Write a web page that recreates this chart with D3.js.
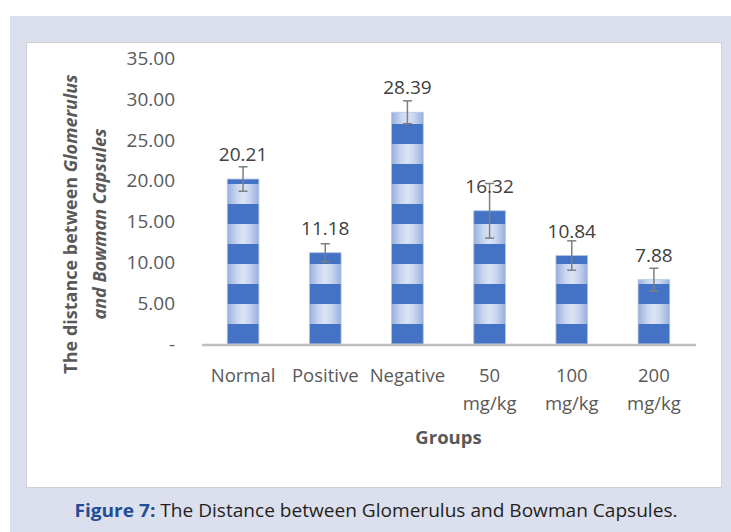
<!DOCTYPE html>
<html>
<head>
<meta charset="utf-8">
<script src="https://cdn.jsdelivr.net/npm/d3@7"></script>
<style>
  body { margin: 0; background: #fff; }
  svg { display: block; }
</style>
</head>
<body>
<div id="chart"></div>
<script>
var width = 731;
var height = 532;

// data
var groups = [["Normal"], ["Positive"], ["Negative"], ["50", "mg/kg"], ["100", "mg/kg"], ["200", "mg/kg"]];
var means = [20.21, 11.18, 28.39, 16.32, 10.84, 7.88];
var errors = [1.5, 1.1, 1.4, 3.35, 1.8, 1.4];
var yTicks = [0, 5, 10, 15, 20, 25, 30, 35];

var darkBlue = '#4472c4';
var textGray = '#595959';
var fontFamily = "'Open Sans', sans-serif";

var svg = d3.select("#chart").append("svg")
      .attr("width", width)
      .attr("height", height);

var defs = svg.append("defs");

// horizontal gradient for the light bands (cylinder look)
var grad = defs.append("linearGradient")
      .attr("id", "lightGrad")
      .attr("x1", "0%").attr("x2", "100%")
      .attr("y1", "0%").attr("y2", "0%");
grad.append("stop").attr("offset", "0%").attr("stop-color", "#98b0de");
grad.append("stop").attr("offset", "30%").attr("stop-color", "#c9d6ee");
grad.append("stop").attr("offset", "50%").attr("stop-color", "#dbe4f4");
grad.append("stop").attr("offset", "70%").attr("stop-color", "#c9d6ee");
grad.append("stop").attr("offset", "100%").attr("stop-color", "#98b0de");

// background panels
svg.append("rect")
      .attr("x", 10).attr("y", 16)
      .attr("width", width - 10).attr("height", height - 16)
      .attr("fill", "#dcdfee");
svg.append("rect")
      .attr("x", 26.5).attr("y", 42.5)
      .attr("width", 695).attr("height", 445)
      .attr("fill", "#fff")
      .attr("stroke", "#d0d0d8");

// scales
var xScale = d3.scaleBand()
      .domain(d3.range(groups.length))
      .range([202, 695])
      .paddingInner(0.615)
      .paddingOuter(0.3075);

var yScale = d3.scaleLinear()
      .domain([0, 35])
      .range([344, 58.3]);

var baseline = yScale(0);

// striped overlay anchored on the baseline
var pattern = defs.append("pattern")
      .attr("id", "stripes")
      .attr("patternUnits", "userSpaceOnUse")
      .attr("x", 0).attr("y", baseline)
      .attr("width", width).attr("height", 40);
pattern.append("rect")
      .attr("x", 0).attr("y", 20)
      .attr("width", width).attr("height", 20)
      .attr("fill", darkBlue);

// y axis
var yAxis = d3.axisLeft(yScale)
      .tickValues(yTicks)
      .tickSize(0)
      .tickPadding(0)
      .tickFormat(d => d === 0 ? "-  " : d3.format(".2f")(d));

var yAxisGroup = svg.append("g")
      .attr("transform", "translate(175, 0)")
      .call(yAxis);
yAxisGroup.select(".domain").remove();
yAxisGroup.selectAll("text")
      .attr("fill", textGray)
      .style("font-family", fontFamily)
      .style("font-size", "19px");

// bars
var plot = svg.append("g");

plot.selectAll(".bar")
      .data(means)
      .enter()
      .append("rect")
            .attr("class", "bar")
            .attr("x", (d, i) => xScale(i))
            .attr("y", d => yScale(d))
            .attr("width", xScale.bandwidth())
            .attr("height", d => baseline - yScale(d))
            .attr("fill", "url(#lightGrad)");

plot.selectAll(".stripe")
      .data(means)
      .enter()
      .append("rect")
            .attr("class", "stripe")
            .attr("x", (d, i) => xScale(i))
            .attr("y", d => yScale(d))
            .attr("width", xScale.bandwidth())
            .attr("height", d => baseline - yScale(d))
            .attr("fill", "url(#stripes)")
            .attr("stroke", "#b4c7e7")
            .attr("stroke-width", 0.8);

// x axis line
svg.append("line")
      .attr("x1", 202).attr("x2", 696)
      .attr("y1", baseline + 1).attr("y2", baseline + 1)
      .attr("stroke", "#bfbfbf")
      .attr("stroke-width", 2.5);

// error bars
var errG = plot.selectAll(".err")
      .data(means)
      .enter()
      .append("g")
            .attr("class", "err")
            .attr("stroke", "#7f7f7f")
            .attr("stroke-width", 1.5);

errG.append("line")
      .attr("x1", (d, i) => xScale(i) + xScale.bandwidth() / 2)
      .attr("x2", (d, i) => xScale(i) + xScale.bandwidth() / 2)
      .attr("y1", (d, i) => yScale(d + errors[i]))
      .attr("y2", (d, i) => yScale(d - errors[i]));
errG.append("line")
      .attr("x1", (d, i) => xScale(i) + xScale.bandwidth() / 2 - 4.5)
      .attr("x2", (d, i) => xScale(i) + xScale.bandwidth() / 2 + 4.5)
      .attr("y1", (d, i) => yScale(d + errors[i]))
      .attr("y2", (d, i) => yScale(d + errors[i]));
errG.append("line")
      .attr("x1", (d, i) => xScale(i) + xScale.bandwidth() / 2 - 4.5)
      .attr("x2", (d, i) => xScale(i) + xScale.bandwidth() / 2 + 4.5)
      .attr("y1", (d, i) => yScale(d - errors[i]))
      .attr("y2", (d, i) => yScale(d - errors[i]));

// data labels
plot.selectAll(".label")
      .data(means)
      .enter()
      .append("text")
            .attr("class", "label")
            .attr("x", (d, i) => xScale(i) + xScale.bandwidth() / 2)
            .attr("y", d => yScale(d) - 18)
            .attr("text-anchor", "middle")
            .attr("fill", "#404040")
            .style("font-family", fontFamily)
            .style("font-size", "19px")
            .text(d => d3.format(".2f")(d));

// category labels
var catLabels = svg.selectAll(".cat")
      .data(groups)
      .enter()
      .append("text")
            .attr("class", "cat")
            .attr("text-anchor", "middle")
            .attr("fill", textGray)
            .style("font-family", fontFamily)
            .style("font-size", "18.5px");
catLabels.selectAll("tspan")
      .data((d, i) => d.map(t => ({ t: t, i: i })))
      .enter()
      .append("tspan")
            .attr("x", d => xScale(d.i) + xScale.bandwidth() / 2)
            .attr("y", (d, j) => 382 + j * 28)
            .text(d => d.t);

// axis titles
svg.append("text")
      .attr("x", 448.5)
      .attr("y", 444)
      .attr("text-anchor", "middle")
      .attr("fill", textGray)
      .style("font-family", fontFamily)
      .style("font-size", "18.5px")
      .style("font-weight", "bold")
      .text("Groups");

var yTitle = svg.append("text")
      .attr("transform", "translate(0, 224) rotate(-90)")
      .attr("text-anchor", "middle")
      .attr("fill", textGray)
      .style("font-family", fontFamily)
      .style("font-size", "18px")
      .style("font-weight", "bold");
var line1 = yTitle.append("tspan").attr("x", 0).attr("y", 77);
line1.append("tspan").text("The distance between ");
line1.append("tspan").style("font-style", "italic").text("Glomerulus");
yTitle.append("tspan")
      .attr("x", 0).attr("y", 106)
      .style("font-style", "italic")
      .text("and Bowman Capsules");

// figure caption
var caption = svg.append("text")
      .attr("x", 376)
      .attr("y", 517)
      .attr("text-anchor", "middle")
      .attr("textLength", 603)
      .attr("lengthAdjust", "spacingAndGlyphs")
      .style("font-family", fontFamily)
      .style("font-size", "18px");
caption.append("tspan")
      .attr("fill", "#1f4e96")
      .style("font-weight", "bold")
      .text("Figure 7:");
caption.append("tspan")
      .attr("fill", "#231f20")
      .text(" The Distance between Glomerulus and Bowman Capsules.");
</script>
</body>
</html>
